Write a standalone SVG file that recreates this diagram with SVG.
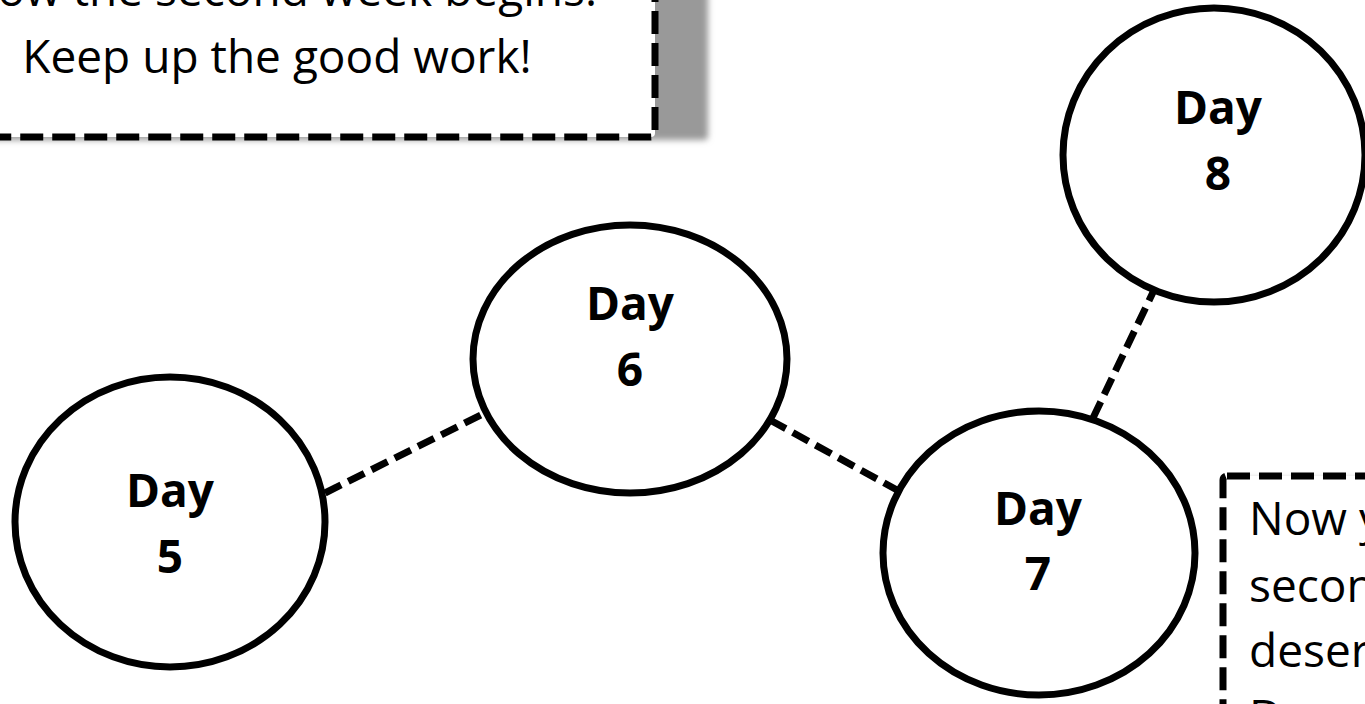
<svg xmlns="http://www.w3.org/2000/svg" width="1365" height="704" viewBox="0 0 1365 704">
  <defs>
    <filter id="blur" x="-20%" y="-20%" width="140%" height="140%">
      <feGaussianBlur stdDeviation="3"/>
    </filter>
    <style>
      .node { fill: #ffffff; stroke: #000000; stroke-width: 7; }
      .label { font-family: "Open Sans", "DejaVu Sans", sans-serif; font-weight: bold; font-size: 46px; fill: #000000; text-anchor: middle; }
      .note { fill: #ffffff; stroke: #000000; stroke-width: 7; stroke-dasharray: 23 9; }
      .shadow { fill: #999999; filter: url(#blur); }
      .notetext { font-family: "Open Sans", "DejaVu Sans", sans-serif; font-size: 46px; fill: #000000; }
      .conn { fill: none; stroke: #000000; stroke-width: 7; stroke-dasharray: 18 8; }
    </style>
  </defs>
  <rect width="1365" height="704" fill="#ffffff"/>

  <g id="note-week">
    <rect class="shadow" x="-40" y="-80" width="748" height="220" rx="4"/>
    <rect class="note" x="-60" y="-80" width="715" height="217" rx="4"/>
    <text class="notetext" x="597" y="6" text-anchor="end">ow the second week begins.</text>
    <text class="notetext" x="277" y="73" text-anchor="middle">Keep up the good work!</text>
  </g>

  <g id="note-second">
    <rect class="shadow" x="1243" y="479" width="200" height="280" rx="4"/>
    <rect class="note" x="1223" y="476" width="200" height="280" rx="4"/>
    <text class="notetext" x="1249" y="535">Now y</text>
    <text class="notetext" x="1249" y="602">secon</text>
    <text class="notetext" x="1249" y="667">deser</text>
    <text class="notetext" x="1249" y="733">D</text>
  </g>

  <g id="connectors">
    <line class="conn" x1="325" y1="493" x2="485" y2="413"/>
    <line class="conn" x1="770" y1="420" x2="897" y2="490"/>
    <line class="conn" x1="1093" y1="418" x2="1155" y2="288"/>
  </g>

  <g id="day5">
    <ellipse class="node" cx="170" cy="522" rx="155" ry="145"/>
    <text class="label" x="170" y="507">Day</text>
    <text class="label" x="170" y="573">5</text>
  </g>

  <g id="day6">
    <ellipse class="node" cx="630" cy="359" rx="157" ry="134"/>
    <text class="label" x="630" y="320">Day</text>
    <text class="label" x="630" y="386">6</text>
  </g>

  <g id="day7">
    <ellipse class="node" cx="1039" cy="553" rx="156" ry="142"/>
    <text class="label" x="1038" y="525">Day</text>
    <text class="label" x="1038" y="590">7</text>
  </g>

  <g id="day8">
    <ellipse class="node" cx="1214" cy="155" rx="151" ry="147"/>
    <text class="label" x="1218" y="124">Day</text>
    <text class="label" x="1218" y="190">8</text>
  </g>
</svg>
